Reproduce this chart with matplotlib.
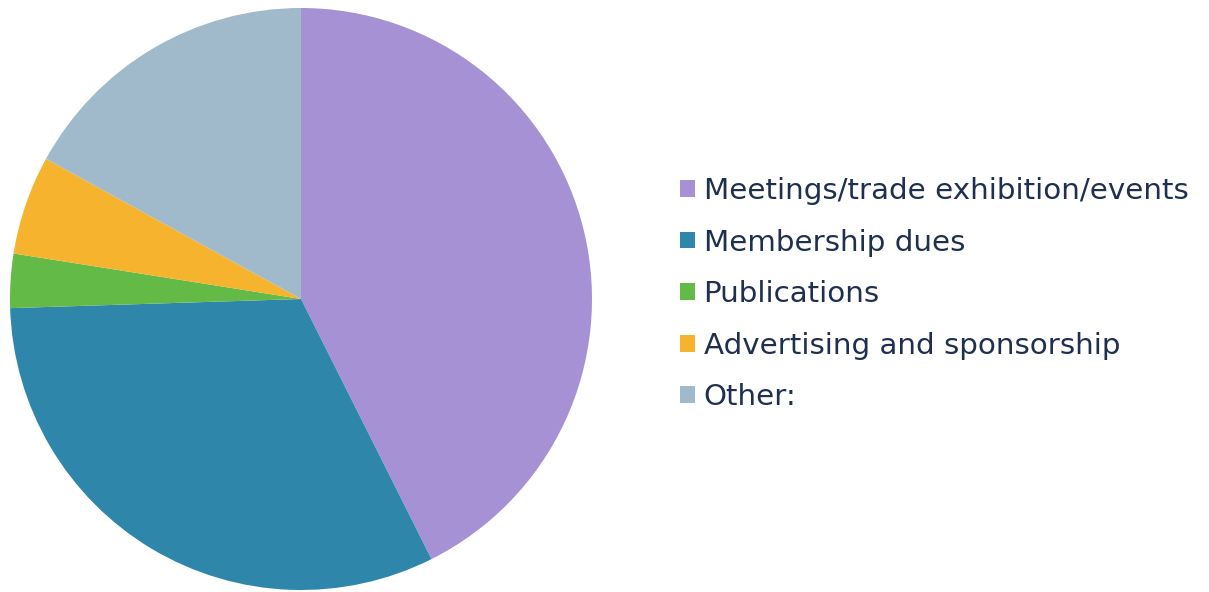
import matplotlib.pyplot as plt

labels = ['Meetings/trade exhibition/events', 'Membership dues', 'Publications',
          'Advertising and sponsorship', 'Other:']
shares = [42.6, 31.9, 3.0, 5.5, 17.0]
colors = ['#A591D3', '#2E87AA', '#63BA47', '#F6B32E', '#A0BACB']

fig = plt.figure(figsize=(12.09, 5.92), dpi=100)
ax = fig.add_axes([10 / 1209, 2 / 592, 582 / 1209, 582 / 592])

wedges, _ = ax.pie(shares, colors=colors, startangle=90, counterclock=False,
                   radius=1, wedgeprops={'linewidth': 0})
ax.set_xlim(-1, 1)
ax.set_ylim(-1, 1)
ax.set_aspect('equal')
ax.axis('off')

leg = fig.legend(wedges, labels, loc='upper left', bbox_to_anchor=(680 / 1209, 1 - 177 / 592),
                 frameon=False, fontsize=21.2, labelcolor='#1E2F4F',
                 handlelength=0.5, handleheight=0.5, handletextpad=0.3,
                 labelspacing=0.8, borderpad=0, borderaxespad=0)
for t in leg.get_texts():
    t.set_family('DejaVu Sans')

fig.savefig('out.png', dpi=100)
